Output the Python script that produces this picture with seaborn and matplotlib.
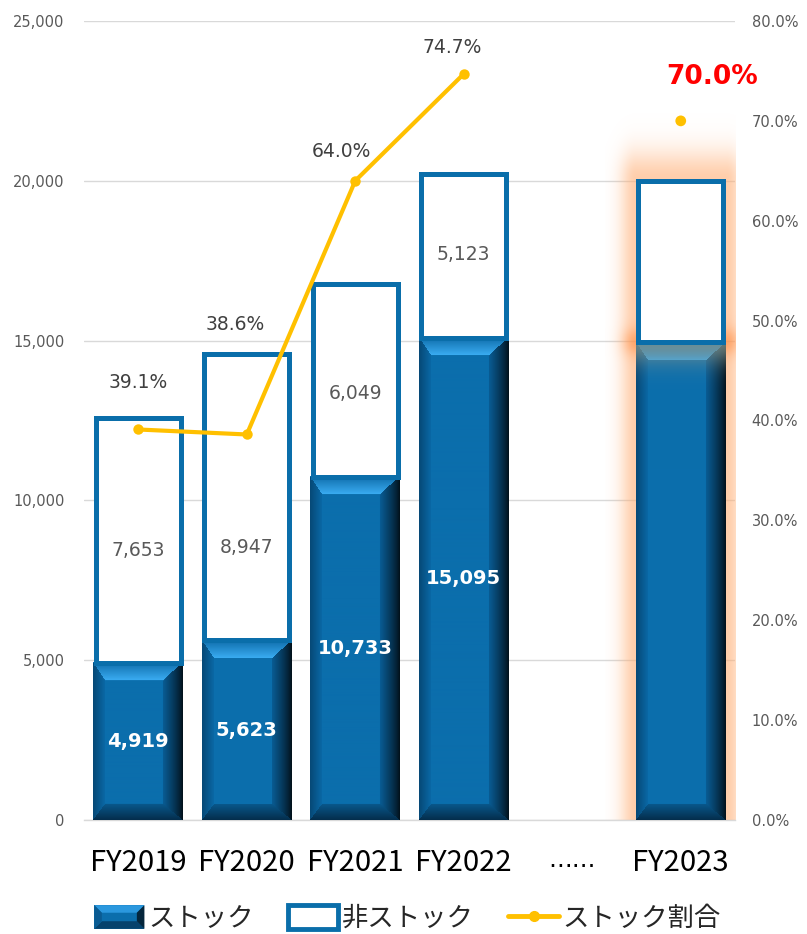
import numpy as np
import pandas as pd
import matplotlib
matplotlib.use("Agg")
import matplotlib.pyplot as plt
import seaborn as sns
from matplotlib.patches import Patch, Rectangle, Polygon
from matplotlib.lines import Line2D
from matplotlib.legend_handler import HandlerBase
from matplotlib.ticker import FuncFormatter, MultipleLocator
from matplotlib.font_manager import FontProperties

# ---- data -------------------------------------------------------------
categories = ["FY2019", "FY2020", "FY2021", "FY2022", "……", "FY2023"]
fiscal_years = ["FY2019", "FY2020", "FY2021", "FY2022", "FY2023"]
stock = [4919, 5623, 10733, 15095, 14950]
non_stock = [7653, 8947, 6049, 5123, 5050]
stock_ratio = [39.1, 38.6, 64.0, 74.7, 70.0]
show_value_labels = [True, True, True, True, False]
legend_labels = ["ストック", "非ストック", "ストック割合"]

# label placement (x offset in categories, y offset in % points)
ratio_label_dx = [0.0, -0.11, -0.13, -0.11, 0.29]
ratio_label_dy = [4.7, 11.0, 2.9, 2.6, 4.4]
non_stock_label_y = [8420, 8540, 13360, 17680]

# ---- style ------------------------------------------------------------
BLUE = "#0a6eaa"
FACE = (11 / 255, 110 / 255, 172 / 255)
GOLD = "#ffc000"
GRID = "#d9d9d9"
TICK = "#595959"
LATIN = "DejaVu Sans"
CJK = "Noto Sans CJK JP"

sns.set_theme(style="white")
plt.rcParams["font.family"] = [LATIN, CJK]

W_PX, H_PX = 807, 934
fig = plt.figure(figsize=(W_PX / 100, H_PX / 100), dpi=100)
ax_l, ax_r, ax_b, ax_t = 84, 735, 820, 21
ax = fig.add_axes([ax_l / W_PX, 1 - ax_b / H_PX, (ax_r - ax_l) / W_PX, (ax_b - ax_t) / H_PX])

XMIN, XMAX, YMAX = -0.5, 5.5, 25000
px_x = (ax_r - ax_l) / (XMAX - XMIN)
px_y = (ax_b - ax_t) / YMAX

df = pd.DataFrame({"year": fiscal_years, "stock": stock, "non_stock": non_stock,
                   "ratio": stock_ratio})
pos = [categories.index(y) for y in fiscal_years]

BAR_W = 90 / px_x
EDGE_PX = 5

# stock segment, then the non-stock segment stacked on top of it
sns.barplot(data=df, x="year", y="stock", order=categories, color=FACE,
            saturation=1, linewidth=0, width=BAR_W, ax=ax, zorder=3)
sns.barplot(data=df, x="year", y="non_stock", order=categories, color="white",
            saturation=1, edgecolor=BLUE, linewidth=EDGE_PX * 0.72,
            width=BAR_W - EDGE_PX / px_x, bottom=df["stock"].to_numpy(),
            ax=ax, zorder=4)


def bevel_image(w_px, h_px, tint=None):
    W = max(int(round(w_px)), 2)
    H = max(int(round(h_px)), 2)
    c = np.broadcast_to(np.arange(W)[None, :] + 0.5, (H, W))
    r = np.broadcast_to(np.arange(H)[:, None] + 0.5, (H, W))
    dl, dr, dt, db = c, W - c, r, H - r
    bl, br, bt, bb = 12.0, 20.0, 18.0, 16.0
    face = np.array(FACE)
    img = np.empty((H, W, 3))
    img[:] = face
    nl, nr, nt, nb = dl / bl, dr / br, dt / bt, db / bb
    m = np.minimum(np.minimum(nl, nr), np.minimum(nt, nb))

    def paint(mask, t, c0, c1):
        t = np.clip(t, 0, 1)[..., None]
        col = np.array(c0) / 255 * (1 - t) + np.array(c1) / 255 * t
        img[mask] = col[mask]

    side = m < 1
    paint(side & (nl == m), nl, (6, 72, 118), (10, 104, 165))
    paint(side & (nb == m), nb, (4, 45, 75), (9, 88, 140))
    paint(side & (nr == m), nr ** 0.8, (2, 14, 22), (9, 92, 148))
    top = side & (nt == m)
    paint(top, nt, (14, 108, 170), (58, 172, 242))
    if tint is not None:
        # warm haze fading downward from the top edge
        k = (0.75 * np.exp(-(r / 22.0) ** 2))[..., None]
        mix = img * (1 - k) + np.array(tint) / 255 * k
        img[:] = mix
    return img


stock_bars = ax.containers[0]
for i, patch in enumerate(stock_bars):
    x0, w, h = patch.get_x(), patch.get_width(), patch.get_height()
    if not np.isfinite(h) or h <= 0:
        continue
    tint = (135, 150, 140) if i == len(stock_bars) - 1 else None
    img = bevel_image(w * px_x, h * px_y, tint)
    ax.imshow(img, extent=(x0, x0 + w, 0, h), aspect="auto",
              interpolation="bilinear", zorder=3.5)

# orange glow around the FY2023 column
gx = pos[-1]
g_stock = stock[-1]
g_total = stock[-1] + non_stock[-1]
gx0, gx1, gy1 = gx - 0.7, XMAX, g_total + 3000
nx, ny = int((gx1 - gx0) * px_x), int(gy1 * px_y)
xs = np.linspace(gx0, gx1, nx)[None, :]
ys = np.linspace(gy1, 0, ny)[:, None]
dx = np.maximum(np.abs(xs - gx) - BAR_W / 2, 0) * px_x
dy = np.maximum(ys - g_total, 0) * px_y
a1 = 0.6 * np.exp(-((dx / 16) ** 2 + (dy / 30) ** 2))
ds = np.hypot(dx, (ys - g_stock) * px_y)
a2 = 0.55 * np.exp(-(ds / 14) ** 2)
alpha = 1 - (1 - a1) * (1 - a2)
glow = np.zeros((ny, nx, 4))
glow[..., 0] = 1.0
glow[..., 1] = 0.58 + 0.1 * (1 - a2 / 0.55)
glow[..., 2] = 0.3 + 0.15 * (1 - a2 / 0.55)
glow[..., 3] = alpha
ax.imshow(glow, extent=(gx0, gx1, 0, gy1), aspect="auto",
          interpolation="bilinear", zorder=1.5)

ax.set_xlim(XMIN, XMAX)
ax.set_ylim(0, YMAX)
ax.yaxis.set_major_locator(MultipleLocator(5000))
ax.yaxis.set_major_formatter(FuncFormatter(lambda v, p: f"{v:,.0f}"))
ax.yaxis.grid(True, color=GRID, lw=1)
ax.set_axisbelow(True)
for s in ["left", "right", "top"]:
    ax.spines[s].set_visible(False)
ax.spines["bottom"].set_color(GRID)
ax.spines["bottom"].set_linewidth(1)
ax.set_xlabel("")
ax.set_ylabel("")
ax.tick_params(axis="y", length=0, pad=14, labelsize=10.5, labelcolor=TICK)
for lab in ax.get_yticklabels():
    lab.set_fontfamily(LATIN)
ax.set_xticks(range(len(categories)))
ax.set_xticklabels(categories)
ax.tick_params(axis="x", length=0, pad=20, labelcolor="black")
for lab in ax.get_xticklabels():
    if lab.get_text() == "……":
        lab.set_fontfamily(LATIN)
        lab.set_fontsize(17)
    else:
        lab.set_fontfamily(CJK)
        lab.set_fontsize(21)

# value labels
for i, (p, s, n) in enumerate(zip(pos, stock, non_stock)):
    if not show_value_labels[i]:
        continue
    ax.text(p, s / 2, f"{s:,}", ha="center", va="center", color="white",
            fontsize=14, fontweight="bold", family=LATIN, zorder=6)
    ax.text(p, non_stock_label_y[i], f"{n:,}", ha="center", va="center",
            color=TICK, fontsize=13.5, family=LATIN, zorder=6)

# stock ratio on the secondary axis
ax2 = ax.twinx()
sns.lineplot(x=pos[:4], y=stock_ratio[:4], color=GOLD, lw=3, marker="o",
             markersize=7.5, markeredgewidth=0, ax=ax2, zorder=5)
sns.scatterplot(x=pos[4:], y=stock_ratio[4:], color=GOLD, s=60,
                edgecolor="none", ax=ax2, zorder=5)
ax2.set_ylim(0, 80)
ax2.set_xlim(XMIN, XMAX)
ax2.yaxis.set_major_locator(MultipleLocator(10))
ax2.yaxis.set_major_formatter(FuncFormatter(lambda v, p: f"{v:.1f}%"))
ax2.tick_params(axis="y", length=0, pad=12, labelsize=10.5, labelcolor=TICK)
for lab in ax2.get_yticklabels():
    lab.set_fontfamily(LATIN)
for s in ax2.spines.values():
    s.set_visible(False)
ax2.set_ylabel("")

for i, (p, v) in enumerate(zip(pos, stock_ratio)):
    last = i == len(pos) - 1
    ax2.text(p + ratio_label_dx[i], v + ratio_label_dy[i], f"{v:.1f}%",
             ha="center", va="center", family=LATIN,
             color="#ff0000" if last else "#404040",
             fontsize=19 if last else 13.5,
             fontweight="bold" if last else "normal", zorder=7)


# legend
class BevelHandler(HandlerBase):
    def create_artists(self, legend, orig_handle, xdescent, ydescent,
                       width, height, fontsize, trans):
        x0, y0 = -xdescent, -ydescent
        x1, y1 = x0 + width, y0 + height
        b = height * 0.32
        arts = [Rectangle((x0, y0), width, height, facecolor=FACE,
                          edgecolor="none", transform=trans)]
        shapes = [
            ([(x0, y1), (x1, y1), (x1 - b, y1 - b), (x0 + b, y1 - b)], "#2b98de"),
            ([(x0, y0), (x1, y0), (x1 - b, y0 + b), (x0 + b, y0 + b)], "#06426c"),
            ([(x0, y0), (x0, y1), (x0 + b, y1 - b), (x0 + b, y0 + b)], "#0a5b92"),
            ([(x1, y0), (x1, y1), (x1 - b, y1 - b), (x1 - b, y0 + b)], "#05263c"),
        ]
        for pts, col in shapes:
            arts.append(Polygon(pts, closed=True, facecolor=col,
                                edgecolor="none", transform=trans))
        return arts


h_stock = Patch(facecolor=FACE)
h_non = Patch(facecolor="white", edgecolor=BLUE, linewidth=3.5)
h_ratio = Line2D([], [], color=GOLD, lw=3.5, marker="o", markersize=7)
fig.legend([h_stock, h_non, h_ratio], legend_labels, loc="lower center",
           bbox_to_anchor=(0.505, -0.012), ncol=3, frameon=False,
           prop=FontProperties(family=CJK, size=19),
           handlelength=1.9, handleheight=1.0, handletextpad=0.15,
           columnspacing=1.3, borderpad=0.0,
           handler_map={h_stock: BevelHandler()})

fig.savefig("out.png", dpi=100)
